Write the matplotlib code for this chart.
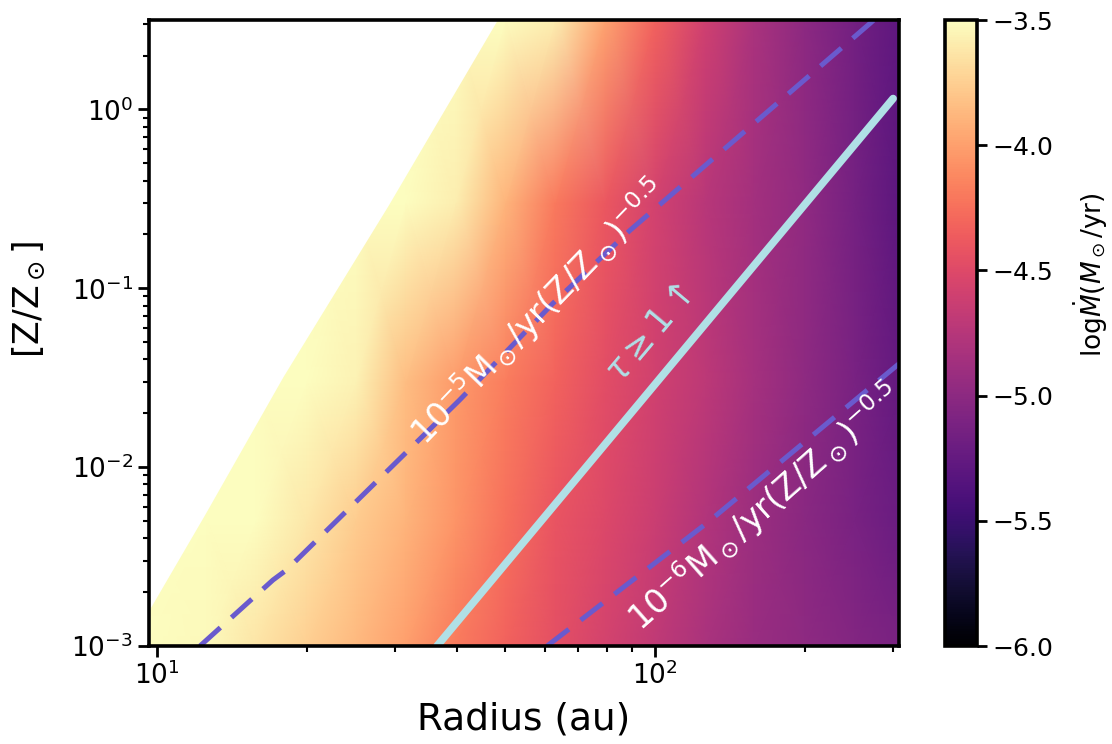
import numpy as np
import matplotlib.pyplot as plt

# Grid nodes: radius (au) and metallicity (Z/Zsun).
radius = [9.5, 12.6, 15.8, 20.0, 25.1, 31.6, 39.8, 50.1, 63.1, 79.4,
          100, 126, 158, 200, 251, 316]
metallicity = [0.001, 0.005, 0.03, 0.3, 3.2]

# log Mdot (Msun/yr) along each metallicity row.
logmdot_z0001 = [-3.38, -3.52, -3.63, -3.75, -3.87, -4.00, -4.19, -4.33,
                 -4.45, -4.57, -4.69, -4.82, -4.92, -4.99, -5.06, -5.13]
logmdot_z0005 = [-3.10, -3.30, -3.46, -3.62, -3.77, -3.90, -4.06, -4.25,
                 -4.41, -4.51, -4.63, -4.77, -4.91, -5.02, -5.12, -5.22]
logmdot_z003 = [-2.50, -2.80, -3.05, -3.30, -3.56, -3.85, -4.03, -4.18,
                -4.33, -4.47, -4.59, -4.71, -4.85, -4.99, -5.12, -5.26]
logmdot_z03 = [-2.00, -2.30, -2.60, -2.85, -3.10, -3.32, -3.58, -3.90,
               -4.20, -4.39, -4.58, -4.74, -4.86, -4.98, -5.15, -5.31]
logmdot_z3 = [-1.50, -1.80, -2.10, -2.40, -2.70, -3.00, -3.20, -3.35,
              -3.58, -3.98, -4.33, -4.60, -4.82, -5.00, -5.16, -5.30]

# Edge of the region without a solution (left, blank).
edge_radius = [9.64, 12.5, 17.9, 29.1, 48.2, 50.0]
edge_metallicity = [0.00159, 0.0055, 0.032, 0.29, 3.16, 3.5]

# Contour-like curves.
mdot5_radius = [12.2, 17.1, 18.2, 40.5, 62.4, 89.1, 270, 288]
mdot5_metallicity = [0.001, 0.00234, 0.00266, 0.0237, 0.0824, 0.211, 3.02, 3.55]
mdot6_radius = [60.7, 127, 303, 320]
mdot6_metallicity = [0.001, 0.00486, 0.0362, 0.041]
tau_radius = [36.5, 300.6]
tau_metallicity = [0.001, 1.15]

logmdot = np.array([logmdot_z0001, logmdot_z0005, logmdot_z003,
                    logmdot_z03, logmdot_z3])

fig = plt.figure(figsize=(11.12, 7.44), dpi=100)
ax = fig.add_axes([0.134, 0.1317, 0.6745, 0.8414])
cax = fig.add_axes([0.8498, 0.1317, 0.0288, 0.8414])

ax.set_xscale('log')
ax.set_yscale('log')
mesh = ax.pcolormesh(radius, metallicity, logmdot, shading='gouraud',
                     cmap='magma', vmin=-6, vmax=-3.5)
ax.fill_betweenx(edge_metallicity, 1.0, edge_radius, color='white', lw=0)

dash = (0, (5.5, 3.0))
ax.plot(mdot5_radius, mdot5_metallicity, color='slateblue', lw=3.6,
        linestyle=dash)
ax.plot(mdot6_radius, mdot6_metallicity, color='slateblue', lw=3.6,
        linestyle=dash)
ax.plot(tau_radius, tau_metallicity, color='powderblue', lw=5.5,
        solid_capstyle='round')

ax.text(58.6, 0.0740, r'$10^{-5}{\rm M_\odot/yr(Z/Z_\odot)^{-0.5}}$',
        color='white', fontsize=24, rotation=46, rotation_mode='anchor',
        ha='center', va='center')
ax.text(166, 0.00598, r'$10^{-6}{\rm M_\odot/yr(Z/Z_\odot)^{-0.5}}$',
        color='white', fontsize=24, rotation=41.5, rotation_mode='anchor',
        ha='center', va='center')
ax.text(98.0, 0.0560, r'$\tau \geq 1 \uparrow$', color='powderblue',
        fontsize=25, rotation=50, rotation_mode='anchor',
        ha='center', va='center')

ax.set_xlim(9.64, 309)
ax.set_ylim(1e-3, 3.16)
ax.set_xlabel('Radius (au)', fontsize=27, labelpad=8)
ax.set_ylabel(r'$[{\rm Z/Z_\odot}]$', fontsize=25)
ax.yaxis.set_label_coords(-0.136, 0.553)

for spine in ax.spines.values():
    spine.set_linewidth(2.6)
ax.tick_params(which='major', labelsize=19, length=8, width=2)
ax.tick_params(which='minor', length=4.5, width=1.5)

cbar = fig.colorbar(mesh, cax=cax, ticks=[-6.0, -5.5, -5.0, -4.5, -4.0, -3.5])
cbar.ax.set_yticklabels(['$-6.0$', '$-5.5$', '$-5.0$', '$-4.5$', '$-4.0$', '$-3.5$'])
cbar.outline.set_linewidth(2.6)
cbar.ax.tick_params(labelsize=18, length=7, width=2)
cbar.set_label(r'log$\dot{M}(M_\odot/{\rm yr})$', fontsize=19)
cbar.ax.yaxis.set_label_coords(3.95, 0.593)

fig.savefig('out.png', dpi=100)
